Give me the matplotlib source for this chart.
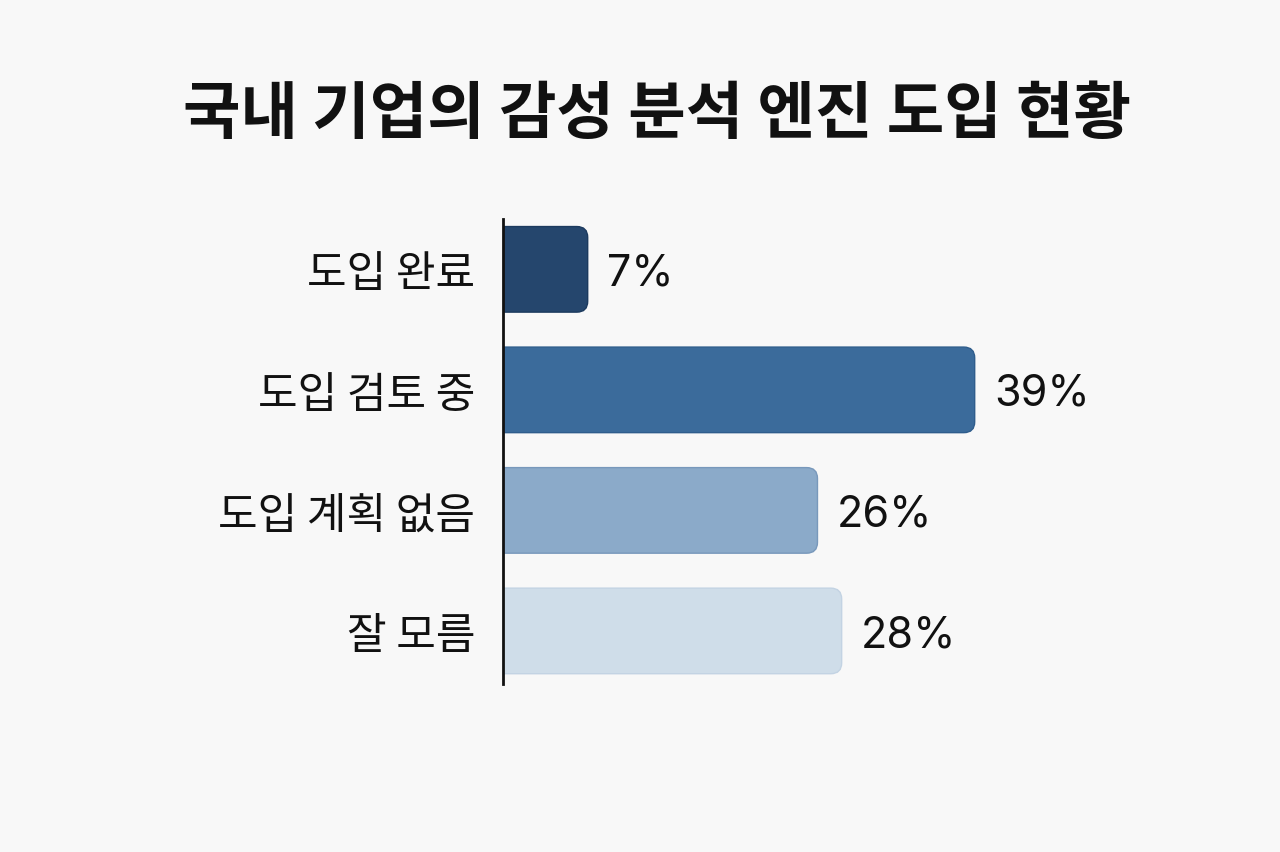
import matplotlib
matplotlib.use("Agg")
import matplotlib.pyplot as plt
from matplotlib.patches import FancyBboxPatch

plt.rcParams['font.family'] = ['Noto Sans CJK KR', 'DejaVu Sans']

# data
categories = ['도입 완료', '도입 검토 중', '도입 계획 없음', '잘 모름']
values = [7, 39, 26, 28]
bar_colors = ['#25466d', '#3b6b9b', '#8baac9', '#cfdde9']
edge_colors = ['#1c3a5e', '#2f5d8c', '#7898bb', '#c3d3e3']

bg = '#f8f8f8'
fig = plt.figure(figsize=(12.8, 8.53), dpi=100, facecolor=bg)
ax = fig.add_axes([0.393, 0.197, 0.548, 0.545], facecolor=bg)

y = list(range(len(categories)))
bars = ax.barh(y, values, height=0.71, color='none')

# rounded bars on top of the plain ones
for b, c, ec in zip(bars, bar_colors, edge_colors):
    x0, y0 = b.get_x(), b.get_y()
    w, h = b.get_width(), b.get_height()
    patch = FancyBboxPatch((x0 - 1, y0), w + 1, h,
                           boxstyle='round,pad=0,rounding_size=0.9',
                           mutation_aspect=0.1,
                           facecolor=c, edgecolor=ec, linewidth=1.0,
                           zorder=2)
    ax.add_patch(patch)
    b.remove()

for yi, v in zip(y, values):
    ax.text(v + 1.6, yi + 0.03, f'{v}%', va='center', ha='left',
            fontsize=31, color='#111111', family=['Inter', 'DejaVu Sans'])

ax.set_xlim(0, 58)
ax.set_ylim(3.44, -0.417)
ax.set_yticks(y)
ax.set_yticklabels(categories, fontsize=31, color='#111111')
ax.tick_params(axis='y', length=0, pad=20)
ax.set_xticks([])
for s in ['top', 'right', 'bottom']:
    ax.spines[s].set_visible(False)
ax.spines['left'].set_linewidth(2)
ax.spines['left'].set_color('#111111')
ax.spines['left'].set_zorder(3)

fig.text(0.513, 0.866, '국내 기업의 감성 분석 엔진 도입 현황', ha='center', va='center',
         fontsize=45, fontweight='bold', color='#111111')

fig.savefig('out.png', dpi=100, facecolor=bg)
